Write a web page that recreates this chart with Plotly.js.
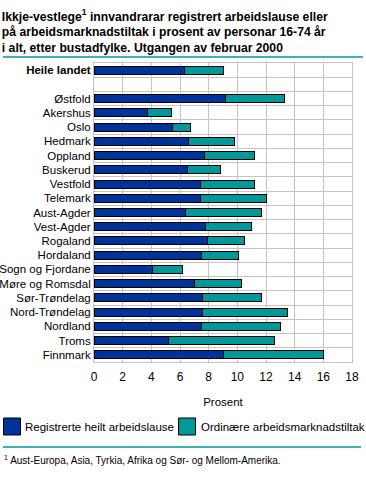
<!DOCTYPE html>
<html>
<head>
<meta charset="utf-8">
<script src="https://cdn.plot.ly/plotly-3.0.1.min.js"></script>
<style>html,body{margin:0;padding:0;background:#fff;}#chart{width:366px;height:479px;}</style>
</head>
<body>
<div id="chart"></div>
<script>
// Categories (top to bottom); the blank entry is the gap row
const categories = ["<b>Heile landet</b>", "", "Østfold", "Akershus", "Oslo", "Hedmark", "Oppland", "Buskerud", "Vestfold", "Telemark", "Aust-Agder", "Vest-Agder", "Rogaland", "Hordaland", "Sogn og Fjordane", "Møre og Romsdal", "Sør-Trøndelag", "Nord-Trøndelag", "Nordland", "Troms", "Finnmark"];
// Registrerte heilt arbeidslause (prosent)
const registrerte = [6.3, null, 9.2, 3.7, 5.5, 6.6, 7.7, 6.5, 7.4, 7.4, 6.4, 7.8, 7.9, 7.5, 4.1, 7.0, 7.6, 7.6, 7.5, 5.2, 9.0];
// Ordinære arbeidsmarknadstiltak (prosent)
const tiltak = [2.7, null, 4.1, 1.7, 1.2, 3.2, 3.5, 2.3, 3.8, 4.6, 5.3, 3.2, 2.6, 2.6, 2.1, 3.3, 4.1, 5.9, 5.5, 7.4, 7.0];
const seriesNames = ["Registrerte heilt arbeidslause", "Ordinære arbeidsmarknadstiltak"];
const xTicks = [0, 2, 4, 6, 8, 10, 12, 14, 16, 18];

const BLUE = "#003399", TEAL = "#009999", GRID = "#c4c4c4";
const FONT = "Liberation Sans, Arial, sans-serif";

// row positions on the y axis and the boundaries between rows (for gridlines)
const rowPos = categories.map((c, i) => i);
const rowBounds = categories.map((c, i) => i - 0.5).concat([categories.length - 0.5]);

// plot-area geometry (pixels) for placing decorations in paper coords
const L = 94, R = 352, T = 63, B = 362;
const px = x => (x - L) / (R - L);
const py = y => (B - y) / (B - T);

const traces = [
  {type: "bar", orientation: "h", y: rowPos, x: registrerte, name: seriesNames[0],
   marker: {color: BLUE, line: {color: "#000", width: 1}}, showlegend: false, hoverinfo: "x"},
  {type: "bar", orientation: "h", y: rowPos, x: tiltak, name: seriesNames[1],
   marker: {color: TEAL, line: {color: "#000", width: 1}}, showlegend: false, hoverinfo: "x"}
];

const layout = {
  width: 366, height: 479,
  margin: {l: L, r: 366 - R, t: T, b: 479 - B, pad: 0},
  paper_bgcolor: "#fff", plot_bgcolor: "#fff",
  font: {family: FONT, size: 11.5, color: "#000"},
  barmode: "stack", bargap: 0.44,
  title: {
    text: "<b>Ikkje-vestlege<sup>1</sup> innvandrarar registrert arbeidslause eller<br>på arbeidsmarknadstiltak i prosent av personar 16-74 år<br>i alt, etter bustadfylke. Utgangen av februar 2000</b>",
    font: {family: FONT, size: 12.2, color: "#000"},
    x: 0.005, xref: "container", xanchor: "left",
    y: 0.957, yref: "container", yanchor: "top"
  },
  xaxis: {
    range: [0, 18], tickvals: xTicks, ticktext: xTicks.map(String),
    showgrid: true, gridcolor: GRID, gridwidth: 1, zeroline: false,
    showline: true, linecolor: GRID, linewidth: 1, mirror: true,
    ticks: "", tickfont: {family: FONT, size: 12}, ticklabelstandoff: 4,
    title: {text: "Prosent", font: {family: FONT, size: 11.5}, standoff: 14},
    fixedrange: true
  },
  yaxis: {
    type: "linear", range: [categories.length - 0.5, -0.5],
    tickmode: "array", tickvals: rowPos, ticktext: categories,
    showgrid: false, zeroline: false,
    minor: {tickmode: "array", tickvals: rowBounds, showgrid: true, gridcolor: GRID, gridwidth: 1, ticks: ""},
    showline: true, linecolor: GRID, linewidth: 1, mirror: true,
    ticks: "", tickfont: {family: FONT, size: 11.5},
    fixedrange: true
  },
  shapes: [
    {type: "line", xref: "paper", yref: "paper", x0: px(3), x1: px(363), y0: py(57), y1: py(57), line: {color: TEAL, width: 1.5}},
    {type: "line", xref: "paper", yref: "paper", x0: px(3), x1: px(361), y0: py(447), y1: py(447), line: {color: TEAL, width: 1.5}},
    {type: "rect", xref: "paper", yref: "paper", x0: px(3.5), x1: px(20.5), y0: py(435), y1: py(418), fillcolor: BLUE, line: {color: "#000", width: 1}},
    {type: "rect", xref: "paper", yref: "paper", x0: px(178.5), x1: px(195.5), y0: py(435), y1: py(418), fillcolor: TEAL, line: {color: "#000", width: 1}}
  ],
  annotations: [
    {xref: "paper", yref: "paper", x: px(23), y: py(426.5), xanchor: "left", yanchor: "middle", showarrow: false, text: seriesNames[0], font: {family: FONT, size: 11.5}},
    {xref: "paper", yref: "paper", x: px(199), y: py(426.5), xanchor: "left", yanchor: "middle", showarrow: false, text: seriesNames[1], font: {family: FONT, size: 11.5}},
    {xref: "paper", yref: "paper", x: px(2), y: py(460), xanchor: "left", yanchor: "middle", showarrow: false, text: "<sup>1</sup> Aust-Europa, Asia, Tyrkia, Afrika og Sør- og Mellom-Amerika.", font: {family: FONT, size: 10}}
  ]
};

Plotly.newPlot("chart", traces, layout, {displayModeBar: false, staticPlot: true});
</script>
</body>
</html>
